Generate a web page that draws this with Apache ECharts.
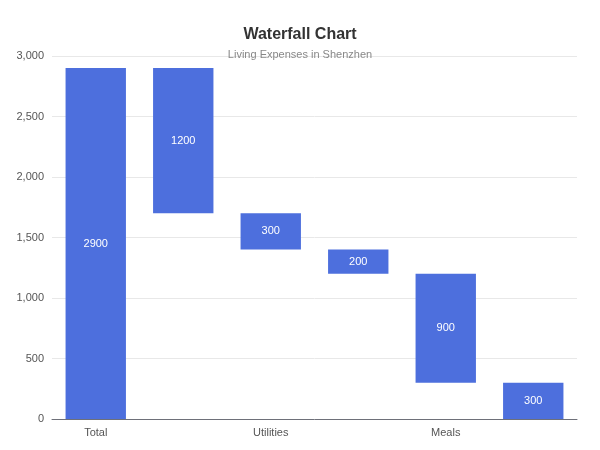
<!DOCTYPE html>
<html>
<head>
<meta charset="utf-8">
<script src="https://cdn.jsdelivr.net/npm/echarts@6/dist/echarts.min.js"></script>
<style>
    html, body { margin: 0; padding: 0; background: #fff; }
    #main { width: 600px; height: 450px; }
</style>
</head>
<body>
<div id="main"></div>
<script>
// 类目
var categories = ['Total', 'Rent', 'Utilities', 'Transportation', 'Meals', 'Other'];
// 透明占位
var placeholder = [0, 1700, 1400, 1200, 300, 0];
// 生活费
var expenses = [2900, 1200, 300, 200, 900, 300];

var myChart = echarts.init(document.getElementById('main'));
myChart.setOption({
    title: {
        text: 'Waterfall Chart',
        subtext: 'Living Expenses in Shenzhen',
        left: 'center',
        top: 22,
        itemGap: 6,
        textStyle: {
            fontSize: 16,
            fontWeight: 'bold',
            color: '#333'
        },
        subtextStyle: {
            fontSize: 11,
            color: '#888'
        }
    },
    grid: {
        left: 52,
        right: 23,
        top: 56,
        bottom: 31
    },
    xAxis: {
        type: 'category',
        splitLine: { show: false },
        axisTick: { show: false },
        axisLabel: { color: '#555', fontSize: 11 },
        axisLine: { lineStyle: { color: '#6E7079' } },
        data: categories
    },
    yAxis: {
        type: 'value',
        min: 0,
        max: 3000,
        interval: 500,
        axisLabel: { color: '#555', fontSize: 11 },
        splitLine: { lineStyle: { color: '#E8E8E8' } }
    },
    series: [
        {
            name: 'Placeholder',
            type: 'bar',
            stack: 'Total',
            barCategoryGap: '31%',
            itemStyle: {
                borderColor: 'transparent',
                color: 'transparent'
            },
            emphasis: {
                itemStyle: {
                    borderColor: 'transparent',
                    color: 'transparent'
                }
            },
            data: placeholder
        },
        {
            name: 'Life Cost',
            type: 'bar',
            stack: 'Total',
            barCategoryGap: '31%',
            itemStyle: { color: '#4d6fdd' },
            label: {
                show: true,
                position: 'inside',
                color: '#fff',
                fontSize: 11
            },
            data: expenses
        }
    ]
});
</script>
</body>
</html>
